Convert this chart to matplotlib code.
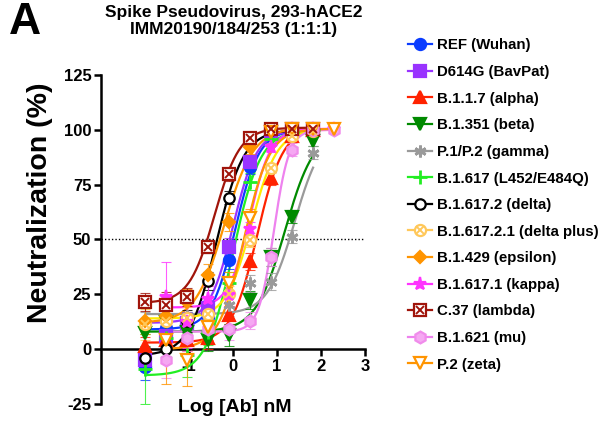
import numpy as np
import matplotlib
matplotlib.use("Agg")
import matplotlib.pyplot as plt
from matplotlib.lines import Line2D
from matplotlib.legend_handler import HandlerTuple

plt.rcParams['font.family'] = ['Liberation Sans', 'DejaVu Sans']
plt.rcParams['font.weight'] = 'bold'
plt.rcParams['axes.unicode_minus'] = False

# log10 of antibody concentration (nM), 3-fold dilutions
log_conc = [-1.99, -1.52, -1.04, -0.56, -0.09, 0.39, 0.87, 1.35, 1.82, 2.30]

labels = ['REF (Wuhan)', 'D614G (BavPat)', 'B.1.1.7 (alpha)', 'B.1.351 (beta)',
          'P.1/P.2 (gamma)', 'B.1.617 (L452/E484Q)', 'B.1.617.2 (delta)',
          'B.1.617.2.1 (delta plus)', 'B.1.429 (epsilon)', 'B.1.617.1 (kappa)',
          'C.37 (lambda)', 'B.1.621 (mu)', 'P.2 (zeta)']

nan = np.nan
neut = [
    [-8, 9.6, 11, 14.8, 40.6, 83, 100, 100.5, 100.5, nan],
    [-5, 6, 12, 18.6, 46.7, 85.5, 99.5, 100, 100, nan],
    [1.4, 4, 4, 5.3, 15.5, 40, 78, 97, 100, nan],
    [7.4, 12.5, 8, 4, 6.4, 22.4, 42, 60.4, 94.7, nan],
    [12, 13, 15, 12.5, 20, 30, 30.8, 51.3, 89.6, nan],
    [-9, 5, -2.7, 8, 30, 76.4, 96, 99, 100, nan],
    [-4, 0, 13, 31, 69, 95, 100, 100, 100, nan],
    [11.4, 13, 14, 16, 25, 49.8, 82.5, 97, 99.5, nan],
    [13, 15, 21.6, 34, 58, 92, 100, 100, 100, nan],
    [nan, 23.9, 12.5, 22.7, 24.7, 55, 92, 100.5, 100.5, 100.5],
    [21.6, 20, 23.9, 46.7, 79.8, 96.4, 100.5, 100.5, 100.5, nan],
    [nan, -5, 5, 9, 9, 13, 42, 91, 100, 100],
    [nan, 4, -5, 10, 30, 59.7, 99, 100.5, 100.5, 100.5],
]
sd = [
    [6, 5, 6, 4, 4, 3, 2, 1, 1, nan],
    [5, 6, 5, 4, 4, 3, 2, 1, 1, nan],
    [4, 5, 5, 5, 4, 4, 3, 2, 1, nan],
    [6, 8, 6, 5, 5, 4, 4, 3, 2, nan],
    [5, 6, 6, 5, 5, 4, 4, 3, 3, nan],
    [16, 8, 10, 6, 5, 4, 2, 1, 1, nan],
    [5, 6, 5, 4, 3, 2, 1, 1, 1, nan],
    [7, 6, 5, 4, 4, 3, 2, 1, 1, nan],
    [6, 8, 6, 5, 4, 3, 1, 1, 1, nan],
    [nan, 16, 12, 6, 5, 3, 2, 1, 1, 1],
    [4, 6, 4, 3, 3, 2, 1, 1, 1, nan],
    [nan, 8, 6, 5, 5, 4, 4, 3, 1, 1],
    [nan, 20, 12, 6, 5, 4, 2, 1, 1, 1],
]

# 4PL fit parameters: bottom, top, logIC50, hill slope
fit_bottom = [9, 12, 3, 8, 16, -12, -3, 14, 12, 19, 21, 8, 0]
fit_top = [100, 100, 101, 100, 100, 100, 100, 100, 101, 100.5, 101, 100, 100.5]
fit_logic50 = [0.05, 0.0, 0.55, 1.18, 1.4, 0.0, -0.38, 0.42, -0.2, 0.38, -0.42, 0.93, 0.25]
fit_hill = [1.6, 1.6, 1.5, 1.3, 1.4, 1.4, 1.4, 1.5, 1.3, 1.8, 1.5, 2.5, 1.5]

colors = ['#0A3CFF', '#9933FF', '#FF2200', '#008A00', '#9A9A9A', '#22EE22', '#000000',
          '#FFC85A', '#FF9400', '#FF33FF', '#A0140A', '#F08CEB', '#FF9400']
line_colors = ['#0A3CFF', '#9933FF', '#FF2200', '#008A00', '#9A9A9A', '#22EE22', '#000000',
               '#FFEA00', '#FF9400', '#FF33FF', '#A0140A', '#EE82EE', '#FF9400']
markers = ['o', 's', '^', 'v', (6, 2, 0), '+', 'o', 'o', 'D', '*', 's', 'h', 'v']
msizes = [8, 8, 8, 8, 8.5, 9.5, 7.5, 8, 6.5, 9.5, 8.5, 8.5, 8]
filled = [True, True, True, True, True, True, False, False, True, True, False, True, False]
crossed = [False, False, False, False, False, False, False, True, False, False, True, False, False]

fig = plt.figure(figsize=(6.02, 4.21), dpi=100)
ax = fig.add_axes([101 / 602, 1 - 404 / 421, 264 / 602, 329 / 421])

x = np.array(log_conc)
handles = []
for i in range(len(labels)):
    y = np.array(neut[i], dtype=float)
    e = np.array(sd[i], dtype=float)
    ok = ~np.isnan(y)
    xc = np.linspace(x[ok].min(), x[ok].max(), 200)
    b, t, c, h = fit_bottom[i], fit_top[i], fit_logic50[i], fit_hill[i]
    yc = b + (t - b) / (1 + 10 ** ((c - xc) * h))
    ax.plot(xc, yc, color=line_colors[i], lw=1.6, zorder=3)
    ax.errorbar(x[ok], y[ok], yerr=e[ok], fmt='none', ecolor=colors[i], elinewidth=0.8,
                capsize=3.5, capthick=0.8, zorder=3.5, alpha=0.8)
    mfc = colors[i] if filled[i] else 'white'
    if i == 11:
        mfc = '#F5A8F2'
    mew = 2 if markers[i] == '+' or markers[i] == (6, 2, 0) else 1.6
    ax.plot(x[ok], y[ok], ls='none', marker=markers[i], ms=msizes[i], mfc=mfc,
            mec=colors[i], mew=mew, zorder=4)
    hd = Line2D([], [], color=line_colors[i] if i != 7 else colors[i], lw=1.6,
                marker=markers[i], ms=msizes[i], mfc=mfc, mec=colors[i], mew=mew)
    if crossed[i]:
        ax.plot(x[ok], y[ok], ls='none', marker='x', ms=msizes[i] * 0.75,
                mec=colors[i], mew=1.4, zorder=4.1)
        hx = Line2D([], [], ls='none', marker='x', ms=msizes[i] * 0.75,
                    mec=colors[i], mew=1.4)
        handles.append((hd, hx))
    else:
        handles.append(hd)

ax.axhline(50, color='black', ls=(0, (1, 1.5)), lw=1, zorder=2)

ax.set_xlim(-3, 3)
ax.set_ylim(-25, 125)
ax.spines['top'].set_visible(False)
ax.spines['right'].set_visible(False)
ax.spines['bottom'].set_position(('data', 0))
for s in ['left', 'bottom']:
    ax.spines[s].set_linewidth(1.8)
ax.set_yticks([-25, 0, 25, 50, 75, 100, 125])
ax.set_xticks([-2, -1, 0, 1, 2, 3])
ax.set_xticklabels(['', '-1', '0', '1', '2', '3'])
ax.tick_params(axis='both', width=1.8, length=5, labelsize=12, pad=2)
for lab in ax.get_xticklabels() + ax.get_yticklabels():
    lab.set_fontweight('bold')
ax.patch.set_visible(False)

fig.text(0.014, 0.995, 'A', fontsize=32, fontweight='bold', va='top', ha='left')
fig.text(234 / 602, 1 - 5 / 421, 'Spike Pseudovirus, 293-hACE2\nIMM20190/184/253 (1:1:1)',
         fontsize=12.5, fontweight='bold', ha='center', va='top', linespacing=1.15)
fig.text(40 / 602, 1 - 203 / 421, 'Neutralization (%)', rotation=90, fontsize=20.5,
         fontweight='bold', ha='center', va='center')
fig.text(235 / 602, 1 - 408 / 421, 'Log [Ab] nM', fontsize=14, fontweight='bold',
         ha='center', va='center')

fig.legend(handles, labels, loc='upper left', bbox_to_anchor=(403 / 602, 1 - 34 / 421),
           frameon=False, fontsize=10.8, handlelength=1.6, handletextpad=0.35,
           labelspacing=0.84, borderaxespad=0, borderpad=0.3,
           handler_map={tuple: HandlerTuple(ndivide=1)})

fig.savefig('out.png', dpi=100)
